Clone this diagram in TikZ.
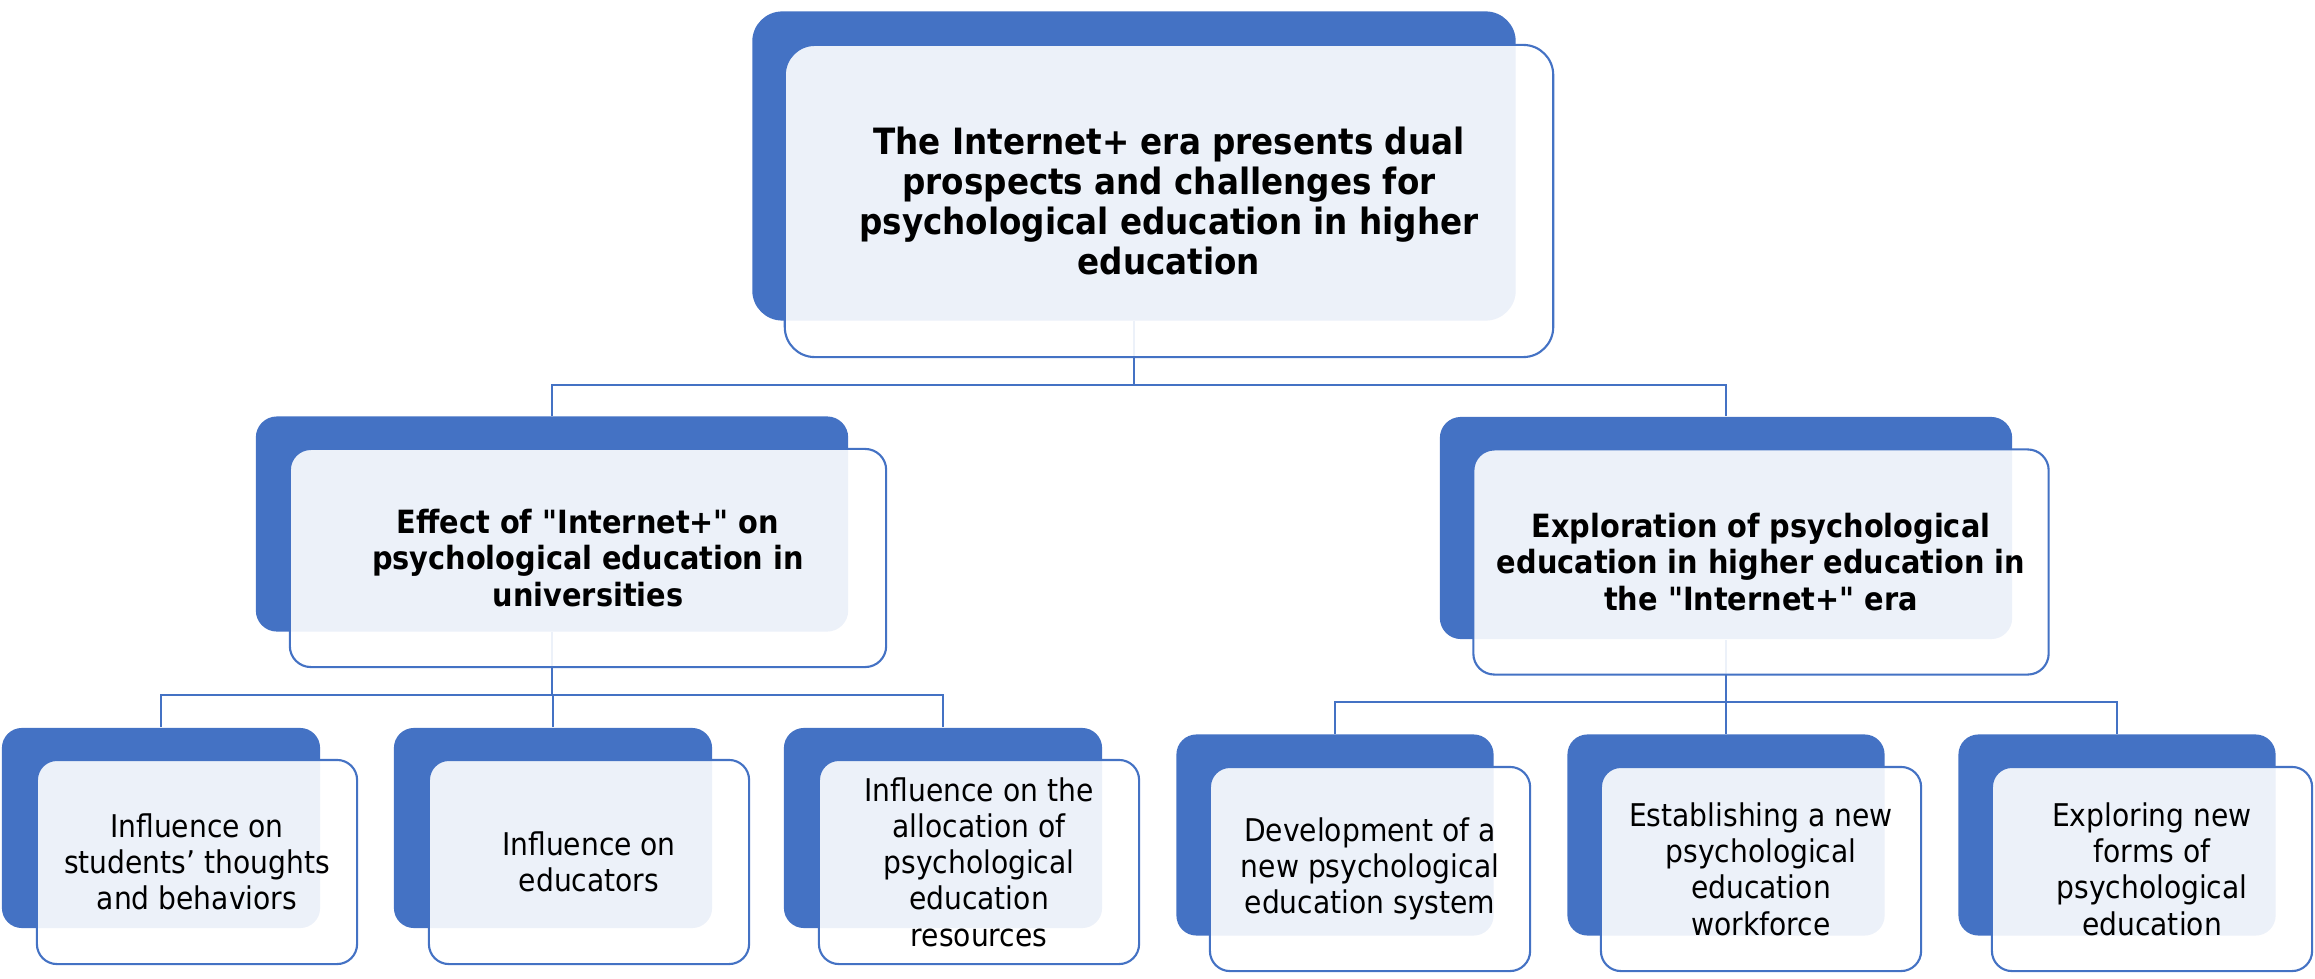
\documentclass[tikz,border=0pt]{standalone}
\usepackage{fontspec}
\setmainfont{DejaVu Sans Condensed}[Ligatures=TeXOff]
\definecolor{blueacc}{HTML}{4472C4}

\begin{document}
\begin{tikzpicture}[x=0.01cm, y=-0.01cm,
        backbox/.style={rectangle, fill=blueacc, inner sep=0pt},
        frontbox/.style={rectangle, draw=blueacc, line width=0.6pt, fill=white, fill opacity=0.9, text opacity=1, inner sep=0pt, align=center},
        headtext/.style={font=\bfseries\fontsize{9.1}{10.3}\selectfont},
        leaftext/.style={font=\fontsize{8.9}{10.3}\selectfont},
        link/.style={draw=blueacc, line width=0.6pt}]
        \useasboundingbox (0,0) rectangle (2315,979);
        % back boxes
        \node [backbox, rounded corners=0.3cm, minimum width=7.63cm, minimum height=3.09cm] (top) at (1134,166) {};
        \node [backbox, rounded corners=0.21cm, minimum width=5.92cm, minimum height=2.15cm] (effect) at (552,524) {};
        \node [backbox, rounded corners=0.21cm, minimum width=5.72cm, minimum height=2.22cm] (explore) at (1726,528) {};
        \node [backbox, rounded corners=0.2cm, minimum width=3.18cm, minimum height=2cm] (students) at (161,828) {};
        \node [backbox, rounded corners=0.2cm, minimum width=3.18cm, minimum height=2cm] (educators) at (553,828) {};
        \node [backbox, rounded corners=0.2cm, minimum width=3.18cm, minimum height=2cm] (resources) at (943,828) {};
        \node [backbox, rounded corners=0.2cm, minimum width=3.17cm, minimum height=2.01cm] (system) at (1335,835) {};
        \node [backbox, rounded corners=0.2cm, minimum width=3.17cm, minimum height=2.01cm] (workforce) at (1726,835) {};
        \node [backbox, rounded corners=0.2cm, minimum width=3.17cm, minimum height=2.01cm] (forms) at (2117,835) {};

        % connectors
        \draw [link] (effect.north) -- ++(0,-31) -| (top.south);
        \draw [link] (explore.north) -- ++(0,-31) -| (top.south);
        \draw [link] (students.north) -- ++(0,-32) -| (effect.south);
        \draw [link] (educators.north) -- ++(0,-32) -| (effect.south);
        \draw [link] (resources.north) -- ++(0,-32) -| (effect.south);
        \draw [link] (system.north) -- ++(0,-32) -| (explore.south);
        \draw [link] (workforce.north) -- ++(0,-32) -| (explore.south);
        \draw [link] (forms.north) -- ++(0,-32) -| (explore.south);

        % front boxes
        \node [frontbox, rounded corners=0.3cm, minimum width=7.68cm, minimum height=3.12cm, font=\bfseries\fontsize{10.3}{11.4}\selectfont] (toptext) at (1169,201) {The Internet+ era presents dual\\prospects and challenges for\\psychological education in higher\\education};
        \node [frontbox, headtext, rounded corners=0.21cm, minimum width=5.96cm, minimum height=2.18cm] (effecttext) at (588,558) {Effect of "Internet+" on\\psychological education in\\universities};
        \node [frontbox, headtext, rounded corners=0.21cm, minimum width=5.75cm, minimum height=2.25cm] (exploretext) at (1761,562) {Exploration of psychological\\education in higher education in\\the "Internet+" era};
        \node [frontbox, leaftext, rounded corners=0.2cm, minimum width=3.2cm, minimum height=2.04cm] (studentstext) at (197,862) {Influence on\\students’ thoughts\\and behaviors};
        \node [frontbox, leaftext, rounded corners=0.2cm, minimum width=3.2cm, minimum height=2.04cm] (educatorstext) at (589,862) {Influence on\\educators};
        \node [frontbox, leaftext, rounded corners=0.2cm, minimum width=3.2cm, minimum height=2.04cm] (resourcestext) at (979,862) {Influence on the\\allocation of\\psychological\\education\\resources};
        \node [frontbox, leaftext, rounded corners=0.2cm, minimum width=3.2cm, minimum height=2.04cm] (systemtext) at (1370,869) {Development of a\\new psychological\\education system};
        \node [frontbox, leaftext, rounded corners=0.2cm, minimum width=3.2cm, minimum height=2.04cm] (workforcetext) at (1761,869) {Establishing a new\\psychological\\education\\workforce};
        \node [frontbox, leaftext, rounded corners=0.2cm, minimum width=3.2cm, minimum height=2.04cm] (formstext) at (2152,869) {Exploring new\\forms of\\psychological\\education};
    \end{tikzpicture}
\end{document}
